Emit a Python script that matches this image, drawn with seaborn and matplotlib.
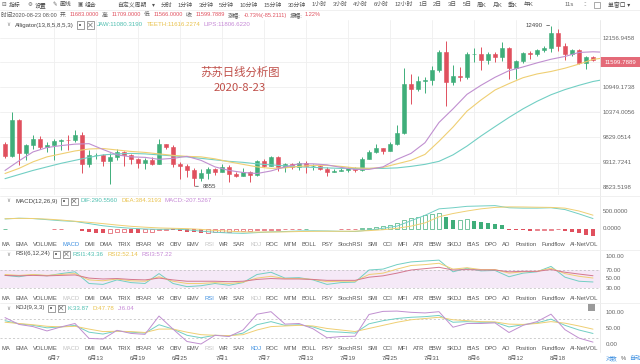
import numpy as np
import seaborn as sns
import matplotlib.pyplot as plt
from matplotlib.patches import Rectangle

# daily candles, 2020-05-31 .. 2020-08-23
closes = [9448, 10200, 9518, 9666, 9789, 9621, 9666, 9746, 9782, 9772,
          9885, 9280, 9465, 9473, 9342, 9426, 9525, 9465, 9386, 9310,
          9358, 9294, 9686, 9624, 9296, 9249, 9162, 9012, 9116, 9192,
          9138, 9232, 9086, 9059, 9135, 9069, 9345, 9253, 9429, 9233,
          9289, 9236, 9303, 9240, 9255, 9197, 9133, 9155, 9171, 9208,
          9160, 9391, 9537, 9609, 9550, 9700, 9934, 11029, 10906, 11100,
          11111, 11351, 11801, 11071, 11219, 11191, 11744, 11762, 11594, 11761,
          11681, 11892, 11393, 11565, 11780, 11760, 11853, 11911, 12281, 11945,
          11754, 11854, 11531, 11683, 11599.79]
opens = [9697] + closes[:-1]
highs = [9740, 10380, 10230, 9690, 9880, 9850, 9730, 9800, 9800, 9880,
         9990, 9950, 9560, 9500, 9490, 9500, 9590, 9540, 9490, 9400,
         9400, 9420, 9800, 9690, 9670, 9330, 9280, 9210, 9190, 9230,
         9200, 9290, 9270, 9130, 9200, 9150, 9370, 9380, 9450, 9440,
         9310, 9300, 9340, 9350, 9280, 9270, 9220, 9190, 9200, 9230,
         9220, 9420, 9560, 9690, 9620, 9730, 10100, 11400, 11250, 11200,
         11180, 11450, 11860, 12084, 11480, 11420, 11800, 11900, 11920, 11800,
         11800, 12067, 11930, 11600, 11800, 11830, 11890, 11950, 12490, 12400,
         12030, 11890, 11890, 11690, 11709]
lows = [9400, 9420, 9266, 9370, 9580, 9580, 9520, 9372, 9570, 9560,
        9730, 9113, 9230, 9390, 9250, 8901, 9360, 9240, 9280, 9200,
        9190, 9260, 9280, 9580, 9230, 9000, 9040, 8855, 8950, 9000,
        9070, 9120, 8940, 9040, 9050, 8930, 9060, 9220, 9240, 9150,
        9120, 9190, 9160, 9110, 9160, 9160, 9050, 9120, 9140, 9120,
        9120, 9150, 9380, 9500, 9480, 9540, 9680, 9900, 10565, 10850,
        10820, 11000, 11300, 10518, 11000, 11080, 11150, 11550, 11350, 11500,
        11540, 11570, 11140, 11150, 11520, 11630, 11700, 11810, 11800, 11820,
        11600, 11700, 11510, 11380, 11566]

# indicator lines, read every second day (+ one step past the last candle for the alligator)
line_days = list(range(0, 85, 2))
gator_days = line_days + [85]
lips = [9160, 9350, 9530, 9620, 9660, 9690, 9700, 9580, 9470, 9430,
        9420, 9380, 9400, 9440, 9360, 9230, 9160, 9120, 9100, 9150,
        9230, 9290, 9290, 9270, 9220, 9180, 9180, 9230, 9380, 9500,
        9720, 10150, 10450, 10780, 10990, 11180, 11340, 11430, 11530, 11620,
        11690, 11790, 11807, 11800]
teeth = [9100, 9200, 9330, 9430, 9490, 9550, 9590, 9600, 9570, 9540,
         9520, 9490, 9460, 9440, 9430, 9390, 9330, 9280, 9230, 9200,
         9210, 9240, 9260, 9260, 9240, 9210, 9200, 9220, 9290, 9360,
         9480, 9750, 10050, 10400, 10650, 10880, 11030, 11170, 11260, 11320,
         11400, 11500, 11616, 11640]
jaw = [9000, 9080, 9160, 9230, 9300, 9360, 9420, 9470, 9490, 9500,
       9490, 9470, 9450, 9430, 9400, 9370, 9340, 9320, 9290, 9270,
       9250, 9230, 9220, 9210, 9200, 9200, 9200, 9200, 9210, 9240,
       9280, 9340, 9470, 9650, 9860, 10060, 10260, 10450, 10620, 10770,
       10890, 10990, 11080, 11110]

dif = [280, 300, 290, 260, 230, 210, 150, 90, 50, 20,
       0, -10, 0, -20, -60, -90, -110, -120, -100, -80,
       -70, -55, -50, -55, -65, -70, -30, 20, 80, 230,
       380, 560, 590, 630, 640, 650, 590, 580, 580, 590,
       540, 420, 290.56]
dea = [285, 295, 292, 275, 250, 215, 185, 150, 110, 75,
       50, 30, 20, 10, -10, -40, -60, -80, -85, -85,
       -80, -70, -65, -62, -63, -60, -45, -20, 20, 80,
       170, 340, 430, 500, 560, 600, 615, 612, 605, 600,
       580, 500, 384.32]
macd_hist = [10, 8, 5, -5, -8, -10, -12, -10, -8, -10, -12,
             -60, -90, -110, -120, -110, -95, -90, -100, -110, -95, -70,
             -30, -20, -25, -50, -70, -95, -110, -100, -90, -80, -75,
             -65, -55, -50, -40, -25, -20, -15, -10, -8, -5, 3,
             -3, -5, -8, -10, -8, -5, -3, 20, 40, 60, 80,
             120, 180, 250, 300, 340, 380, 420, 445, 330, 250, 260,
             265, 215, 190, 160, 130, 100, -20, -30, -40, -45, -40,
             -30, -15, -10, -60, -90, -120, -170, -207.53]

rsi1 = [58, 55, 60, 57, 62, 66, 40, 38, 48, 42, 40, 62, 40, 33, 35, 40, 36, 42, 60, 65,
        52, 53, 48, 38, 42, 43, 70, 72, 82, 88, 90, 92, 66, 74, 68, 69, 55, 63, 66, 78,
        54, 45, 43.36]
rsi2 = [60, 58, 60, 58, 60, 62, 48, 46, 50, 46, 45, 55, 45, 40, 40, 42, 40, 43, 52, 56,
        51, 51, 49, 44, 45, 45, 60, 63, 72, 80, 82, 85, 72, 75, 71, 71, 63, 66, 67, 74,
        62, 56, 52.14]
rsi3 = [58, 57, 58, 57, 58, 59, 52, 50, 51, 49, 48, 52, 48, 45, 45, 45, 44, 45, 49, 51,
        50, 50, 49, 47, 47, 47, 54, 57, 63, 70, 73, 76, 70, 71, 70, 70, 66, 67, 67, 71,
        65, 61, 57.22]

kdj_k = [75, 65, 60, 52, 55, 60, 38, 32, 42, 38, 35, 62, 48, 28, 20, 28, 26, 35, 62, 72,
         60, 62, 55, 40, 38, 35, 65, 75, 82, 86, 88, 92, 70, 72, 70, 70, 55, 62, 68, 80,
         60, 45, 33.87]
kdj_d = [70, 66, 62, 57, 55, 57, 48, 40, 41, 40, 37, 48, 48, 38, 30, 28, 27, 30, 45, 56,
         58, 60, 58, 50, 45, 40, 50, 60, 70, 78, 82, 86, 78, 75, 72, 71, 64, 63, 66, 72,
         67, 58, 47.78]
kdj_j = [85, 63, 56, 42, 55, 66, 18, 16, 44, 34, 31, 90, 48, 8, 0, 28, 24, 45, 96, 104,
         64, 66, 49, 20, 24, 25, 95, 105, 106, 102, 100, 104, 54, 66, 66, 68, 37, 60, 72, 96,
         46, 19, 6.04]

date_days = [7, 13, 19, 25, 31, 37, 43, 49, 55, 61, 67, 73, 79]
date_labels = ["6月7", "6月13", "6月19", "6月25", "7月1", "7月7", "7月13",
               "7月19", "7月25", "7月31", "8月6", "8月12", "8月18"]
price_ticks = [8823.5198, 9312.7241, 9829.0514, 10374.0056, 10949.1738, 11556.5, 12156.9458]

tabs = ["MA", "EMA", "VOLUME", "MACD", "DMI", "DMA", "TRIX", "BRAR", "VR", "OBV", "EMV",
        "RSI", "WR", "SAR", "KDJ", "ROC", "MTM", "BOLL", "PSY", "StochRSI", "SMI", "CCI",
        "MFI", "ATR", "BBW", "SKDJ", "BIAS", "DPO", "AO", "Position", "Fundflow", "AI-NetVOL"]
periods = ["自定义周期", "▾", "分时", "1分钟", "3分钟", "5分钟", "10分钟", "15分钟", "30分钟",
           "1小时", "3小时", "4小时", "6小时", "12小时", "1日", "2日", "3日", "5日",
           "周K", "月K", "季K", "年K"]
tools = [("⊟", "指标", 2), ("⚙", "设置", 28), ("✎", "画线", 53), ("▣", "组合", 78)]

GREEN = "#3fae7a"
RED = "#e0505e"
TEAL = "#72cfc4"
YELLOW = "#efcf73"
PURPLE = "#c08fd0"
GRID = "#efefef"
GREYTXT = "#666666"
BLUE = "#3d8fe0"

sns.set_theme(style="white")
plt.rcParams["font.family"] = ["Liberation Sans", "Noto Sans CJK SC", "DejaVu Sans"]

W, H = 640, 364
fig = plt.figure(figsize=(6.4, 3.64), dpi=100, facecolor="white")
renderer = fig.canvas.get_renderer()
X0, X1 = -5 / 7, 85.0


def panel(top, h):
    ax = fig.add_axes([0, 1 - (top + h) / H, 600 / W, h / H])
    ax.set_facecolor("white")
    for s in ax.spines.values():
        s.set_visible(False)
    ax.set_xlim(X0, X1)
    return ax


def ftext(x, y, s, **kw):
    kw.setdefault("fontsize", 4.4)
    kw.setdefault("color", GREYTXT)
    kw.setdefault("va", "center")
    return fig.text(x / W, 1 - y / H, s, **kw)


def width(s, **kw):
    t = ftext(0, -50, s, **kw)
    w = t.get_window_extent(renderer).width
    t.remove()
    return w


def chain(x, y, parts, gap, **kw):
    # place texts one after another, left to right
    for s, col in parts:
        t = ftext(x, y, s, color=col, ha="left", **kw)
        x += t.get_window_extent(renderer).width + gap
    return x


def spread(x0, x1, y, parts, **kw):
    # place texts between x0 and x1 with equal gaps
    total = sum(width(s, **kw) for s, _ in parts)
    gap = (x1 - x0 - total) / (len(parts) - 1)
    chain(x0, y, parts, gap, **kw)


def frect(x, y, w, h, **kw):
    fig.patches.append(Rectangle((x / W, 1 - (y + h) / H), w / W, h / H,
                                 transform=fig.transFigure, **kw))


def fline(x0, y0, x1, y1, **kw):
    fig.add_artist(plt.Line2D([x0 / W, x1 / W], [1 - y0 / H, 1 - y1 / H],
                              transform=fig.transFigure, **kw))


def clean(ax):
    ax.set_xlabel("")
    ax.set_ylabel("")
    ax.set_xticks([])
    ax.set_yticks([])
    ax.minorticks_off()
    ax.set_xlim(X0, X1)


def icons(x, y):
    frect(x, y - 3.5, 7, 7, fill=False, ec="#777777", lw=0.5)
    frect(x + 10, y - 3.5, 7, 7, fill=False, ec="#777777", lw=0.5)
    fline(x + 11.5, y - 2, x + 15.5, y + 2, color="#777777", lw=0.5)
    fline(x + 11.5, y + 2, x + 15.5, y - 2, color="#777777", lw=0.5)
    frect(x + 2.5, y - 1, 2, 2, color="#777777", lw=0)


def header(y, name, icon_gap, parts):
    ftext(6, y, "∨", fontsize=4.0, color="#888888", family=["DejaVu Sans"])
    x = chain(15, y, [(name, "#444444")], 3, fontsize=4.4)
    icons(x, y)
    chain(x + 20, y, parts, 3.5, fontsize=4.4)


days = np.arange(len(closes))
o = np.array(opens)
c = np.array(closes)
up = c >= o
cols = np.where(up, GREEN, RED)

# ---- main chart ----
ax = panel(20, 175)
ax.set_yscale("log")
ax.set_ylim(8691, 12638)
for t in price_ticks:
    ax.axhline(t, color=GRID, lw=0.6, zorder=0)
for d in date_days:
    ax.axvline(d, color=GRID, lw=0.6, zorder=0)
ax.vlines(days, lows, highs, colors=cols, lw=0.7, zorder=2)
body_lo = np.minimum(o, c)
body_hi = np.maximum(o, c)
ax.bar(days, body_hi - body_lo, bottom=body_lo, width=0.7, color=cols,
       edgecolor=cols, linewidth=0.4, zorder=3)
sns.lineplot(x=gator_days, y=jaw, ax=ax, color=TEAL, lw=0.8, legend=False, zorder=4)
sns.lineplot(x=gator_days, y=teeth, ax=ax, color=YELLOW, lw=0.8, legend=False, zorder=4)
sns.lineplot(x=gator_days, y=lips, ax=ax, color=PURPLE, lw=0.8, legend=False, zorder=4)
clean(ax)
ax.annotate("12490", xy=(78, 12490), xytext=(-6, 0), textcoords="offset points",
            ha="right", va="center", fontsize=4.4, color="#444444",
            arrowprops=dict(arrowstyle="-", color="#444444", lw=0.5, shrinkA=0.5, shrinkB=1))
ax.annotate("8855", xy=(27, 8855), xytext=(6, 0), textcoords="offset points",
            ha="left", va="center", fontsize=4.4, color="#444444",
            arrowprops=dict(arrowstyle="-", color="#444444", lw=0.5, shrinkA=0.5, shrinkB=1))
ax.text(0.4, 0.7, "苏苏日线分析图", transform=ax.transAxes, ha="center", va="center",
        fontsize=8.2, color="#c0504a", family=["Noto Sans CJK SC"])
ax.text(0.4, 0.61, "2020-8-23", transform=ax.transAxes, ha="center", va="center",
        fontsize=8.2, color="#c0504a", family=["Noto Sans CJK SC"])

for t in price_ticks:
    if abs(t - 11556.5) < 1:
        continue
    ax.text(1.005, t, f"{t:.4f}", transform=ax.get_yaxis_transform(), ha="left",
            va="center", fontsize=4.4, color=GREYTXT, clip_on=False)
frect(600, 57, 40, 10, color="#e46a78", lw=0)
ftext(620, 62, "11599.7889", ha="center", color="white", fontsize=4.4)

# ---- MACD ----
axm = panel(205, 33)
axm.set_ylim(-250, 667)
prev = 0
for d, v in zip(days, macd_hist):
    col = GREEN if v >= 0 else RED
    hollow = v > prev
    h = v if abs(v) > 8 else (8 if v >= 0 else -8)
    if hollow:
        axm.bar(d, h, width=0.7, facecolor="white", edgecolor=col, linewidth=0.5)
    else:
        axm.bar(d, h, width=0.7, color=col, linewidth=0)
    prev = v
sns.lineplot(x=line_days, y=dif, ax=axm, color=TEAL, lw=0.7, legend=False)
sns.lineplot(x=line_days, y=dea, ax=axm, color=YELLOW, lw=0.7, legend=False)
clean(axm)
ftext(603, 211, "500.0000")
ftext(603, 229, "0.0000")

# ---- RSI ----
axr = panel(249, 46)
axr.set_ylim(14.4, 116.7)
axr.axhspan(30, 70, color="#f5e9f7", lw=0)
for lv in (70, 30):
    axr.axhline(lv, color="#bbbbbb", lw=0.5, ls=(0, (3, 3)))
sns.lineplot(x=line_days, y=rsi1, ax=axr, color=TEAL, lw=0.7, legend=False)
sns.lineplot(x=line_days, y=rsi2, ax=axr, color=YELLOW, lw=0.7, legend=False)
sns.lineplot(x=line_days, y=rsi3, ax=axr, color="#d4778f", lw=0.7, legend=False)
clean(axr)
for v in (100, 70, 50, 30):
    ftext(606, 279 - (v - 50) * 0.45, f"{v:.2f}")

# ---- KDJ ----
axk = panel(303, 43)
axk.set_ylim(-6.5, 132)
for lv in (80, 20):
    axk.axhline(lv, color="#bbbbbb", lw=0.5, ls=(0, (3, 3)))
sns.lineplot(x=line_days, y=kdj_k, ax=axk, color=TEAL, lw=0.7, legend=False)
sns.lineplot(x=line_days, y=kdj_d, ax=axk, color=YELLOW, lw=0.7, legend=False)
sns.lineplot(x=line_days, y=kdj_j, ax=axk, color=PURPLE, lw=0.7, legend=False)
clean(axk)
for v in (100, 50, 0):
    ftext(606, 344 - v * 0.31, f"{v:.2f}")

# ---- separators ----
fline(600, 20, 600, 352, color="#e6e6e6", lw=0.6)
for yy in (196, 250, 303):
    fline(0, yy, 640, yy, color="#eeeeee", lw=0.6)
fline(0, 10, 640, 10, color="#eeeeee", lw=0.6)

# ---- toolbar ----
for icon, s, x in tools:
    ftext(x, 5, icon, fontsize=4.0, color="#666666", family=["DejaVu Sans"])
    ftext(x + 7, 5, s, fontsize=4.2, color="#444444")
spread(117, 533, 5, [(s, "#555555") for s in periods], fontsize=4.2)
ftext(569, 5, "11s", ha="center", fontsize=4.2)
ftext(583, 5, "⁚⁚", fontsize=4.2, color="#888888", family=["DejaVu Sans"])
frect(594, 2, 6, 6, fill=False, ec="#888888", lw=0.5)
ftext(608, 5, "单窗口 ▾", fontsize=4.2, color="#444444")

# ---- info row ----
info = [("时间2020-08-23 08:00", "#555555"), ("开:", "#555555"), ("11683.0000", RED),
        ("高:", "#555555"), ("11709.0000", RED), ("低:", "#555555"), ("11566.0000", RED),
        ("收:", "#555555"), ("11599.7889", RED), ("涨幅:", "#555555"),
        ("-0.73%(-85.2111)", RED), ("振幅:", "#555555"), ("1.22%", RED)]
spread(1, 321, 15, info, fontsize=4.1)

header(25, "Alligator(13,8,5,8,5,3)", 3, [("JAW:11080.3190", "#4fbfb0"),
                                          ("TEETH:11616.2274", "#e9c24e"),
                                          ("LIPS:11806.6220", "#c689d6")])
header(201, "MACD(12,26,9)", 3, [("DIF:290.5560", "#4fbfb0"), ("DEA:384.3193", "#e9c24e"),
                                 ("MACD:-207.5267", "#c689d6")])
header(254, "RSI(6,12,24)", 3, [("RSI1:43.36", "#4fbfb0"), ("RSI2:52.14", "#e9c24e"),
                                ("RSI3:57.22", "#c689d6")])
header(308, "KDJ(9,3,3)", 3, [("K:33.87", "#4fbfb0"), ("D:47.78", "#e9c24e"),
                              ("J:6.04", "#c689d6")])
frect(588, 304, 7, 7, color="#9a9a9a", lw=0)

# ---- tab rows ----
for row_y, active in ((244, "MACD"), (298, "RSI"), (348, "KDJ")):
    parts = []
    for s in tabs:
        col = "#555555"
        if s == active:
            col = BLUE
        elif s in ("MACD", "RSI", "KDJ"):
            col = "#c4c4c4"
        parts.append((s, col))
    spread(2, 598, row_y, parts, fontsize=4.2)

# ---- date axis ----
for d, lab in zip(date_days, date_labels):
    ftext(5 + 7 * d, 358, lab, ha="center", fontsize=4.3, color="#555555")
chain(606, 358, [("对数", BLUE), ("%", "#555555"), ("自动", BLUE)], 3, fontsize=4.2)

fig.savefig("out.png", dpi=100, facecolor="white")
